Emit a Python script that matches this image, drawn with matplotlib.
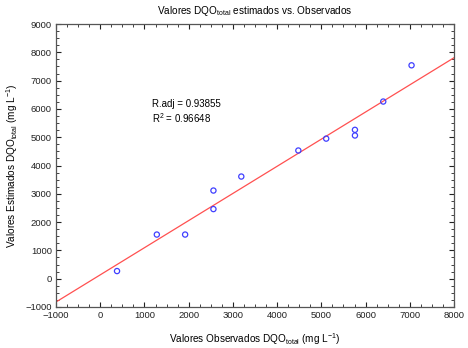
import numpy as np
import matplotlib
matplotlib.use("Agg")
import matplotlib.pyplot as plt
from matplotlib.ticker import MultipleLocator

plt.rcParams["font.family"] = ["Liberation Sans", "DejaVu Sans"]
plt.rcParams["mathtext.fontset"] = "custom"
plt.rcParams["mathtext.rm"] = "Liberation Sans"
plt.rcParams["mathtext.it"] = "Liberation Sans"

observado = [380, 1280, 1920, 2560, 2560, 3190, 4480, 5110, 5760, 5760, 6400, 7040]
estimado = [270, 1560, 1560, 3115, 2460, 3610, 4530, 4950, 5260, 5060, 6260, 7540]

# fitted line end points
linha_x = [-1000, 8000]
linha_y = [-823, 7808]

r_adj = 0.93855
r2 = 0.96648

fig = plt.figure(figsize=(4.68, 3.48), dpi=100)
ax = fig.add_axes([56 / 468, 1 - 307 / 348, 398 / 468, 283 / 348])

ax.plot(linha_x, linha_y, color="#ff5050", lw=0.9)
ax.scatter(observado, estimado, s=14, facecolors="none", edgecolors="#3f3fff", linewidths=0.9, zorder=3)

ax.set_xlim(-1000, 8000)
ax.set_ylim(-1000, 9000)
ax.xaxis.set_major_locator(MultipleLocator(1000))
ax.yaxis.set_major_locator(MultipleLocator(1000))
ax.xaxis.set_minor_locator(MultipleLocator(250))
ax.yaxis.set_minor_locator(MultipleLocator(250))
ax.tick_params(which="both", direction="in", top=True, right=True, labelsize=6.8, colors="#222222")
ax.tick_params(which="major", length=3.5, width=0.8, pad=3)
ax.tick_params(which="minor", length=2, width=0.6)
for s in ax.spines.values():
    s.set_color("#555555")
    s.set_linewidth(0.9)

ax.text(1170, 6180, "R.adj = %.5f" % r_adj, fontsize=7, va="center")
ax.text(1170, 5680, "R$^2$ = %.5f" % r2, fontsize=7, va="center")

ax.set_title("Valores DQO$_{total}$ estimados vs. Observados", fontsize=7.2, pad=7)
ax.set_xlabel("Valores Observados DQO$_{total}$ (mg L$^{-1}$)", fontsize=7.2, labelpad=8)
ax.set_ylabel("Valores Estimados DQO$_{total}$ (mg L$^{-1}$)", fontsize=7.2)
ax.yaxis.set_label_coords(-0.09, 0.5)

fig.savefig("out.png", dpi=100)
